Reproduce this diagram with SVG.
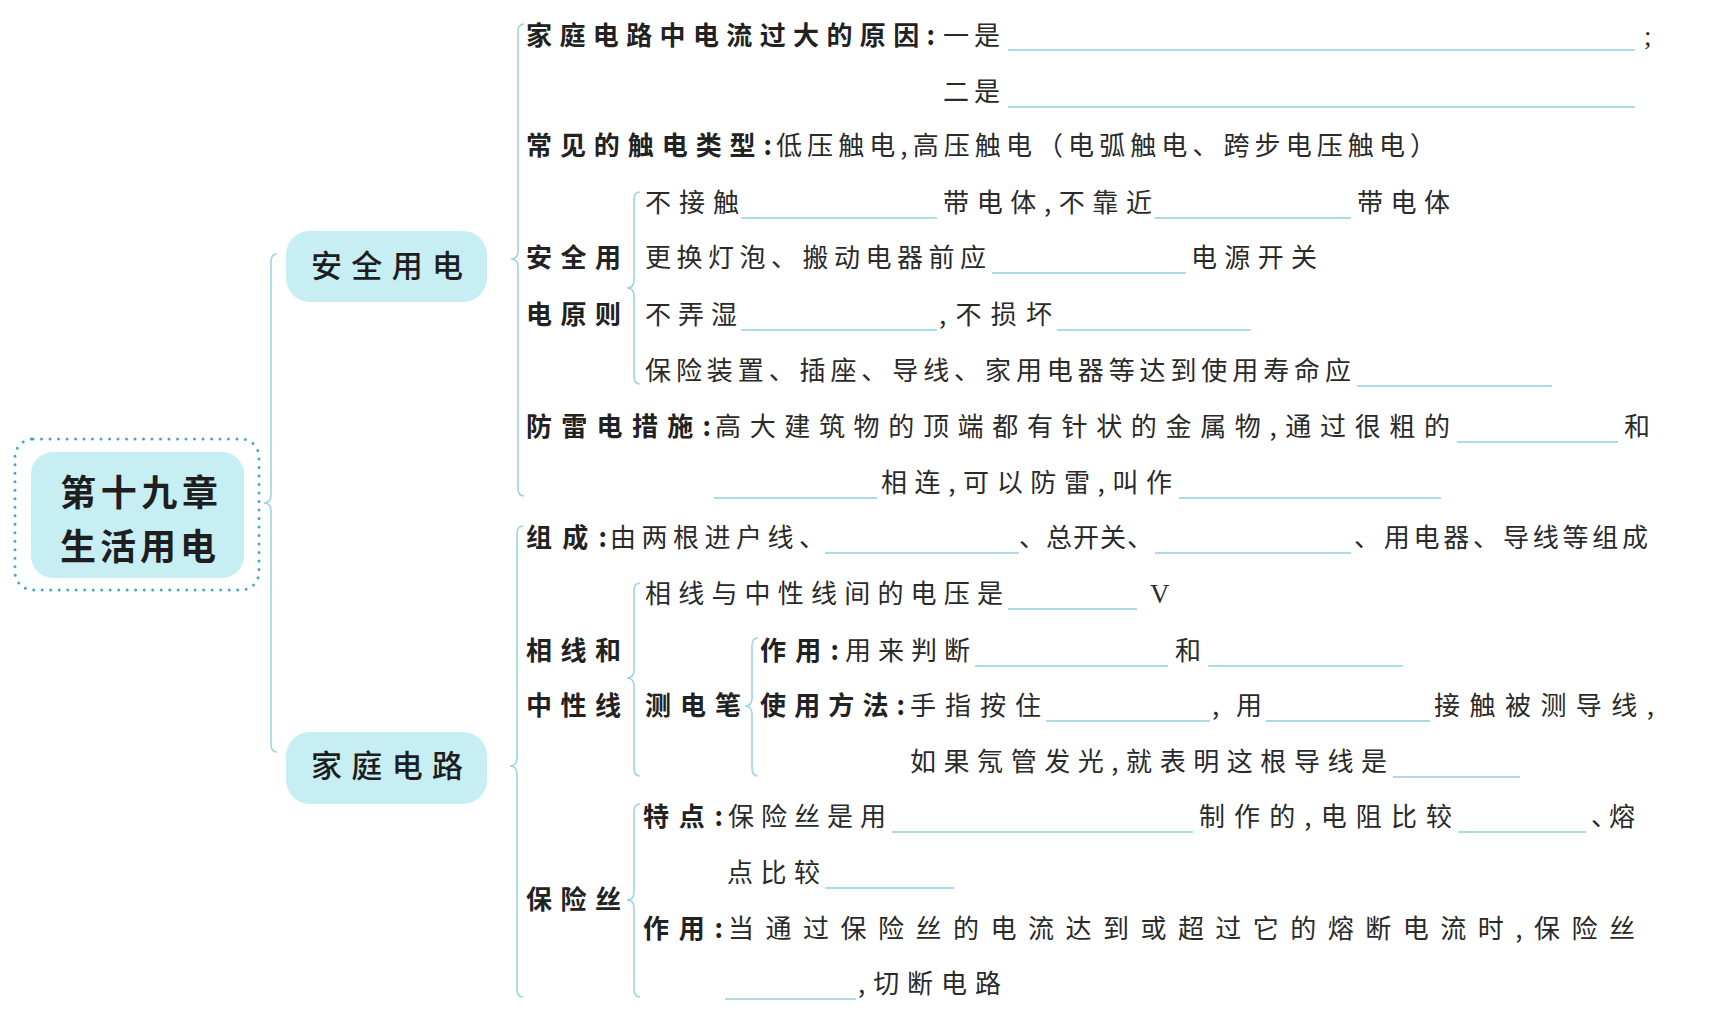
<svg xmlns="http://www.w3.org/2000/svg" width="1709" height="1036" viewBox="0 0 1709 1036">
<style>
.t{font-family:"Noto Sans CJK SC",sans-serif;font-size:26px;font-weight:400;fill:#2a2a2a}
.h{font-family:"Noto Sans CJK SC",sans-serif;font-size:26px;font-weight:700;fill:#222}
.s{font-family:"Liberation Serif",serif;font-size:27px;fill:#2a2a2a}
.b{stroke:#8fd0de;stroke-width:1.6}
.br{fill:none;stroke:#9dd6e2;stroke-width:1.6}
.nf{fill:#c6eef3}
.n1{font-family:"Noto Sans CJK SC",sans-serif;font-size:36px;font-weight:700;fill:#1e1e1e}
.n2{font-family:"Noto Sans CJK SC",sans-serif;font-size:31px;font-weight:500;fill:#1e1e1e}
</style>
<rect width="1709" height="1036" fill="#ffffff"/>
<g id="connectors">
<path class="br" d="M277,254 Q271,254 271,262 V495 Q271,503 264,503 Q271,503 271,511 V744 Q271,752 277,752"/>
<path class="br" d="M524,24 Q518,24 518,32 V251 Q518,259 511,259 Q518,259 518,267 V488 Q518,496 524,496"/>
<path class="br" d="M523,526 Q517,526 517,534 V758 Q517,766 510,766 Q517,766 517,774 V989 Q517,997 523,997"/>
<path class="br" d="M640,192 Q634,192 634,200 V280 Q634,288 627,288 Q634,288 634,296 V376 Q634,384 640,384"/>
<path class="br" d="M640,583 Q634,583 634,591 V670 Q634,678 627,678 Q634,678 634,686 V768 Q634,776 640,776"/>
<path class="br" d="M758,638 Q752,638 752,646 V698 Q752,706 745,706 Q752,706 752,714 V768 Q752,776 758,776"/>
<path class="br" d="M640,804 Q634,804 634,812 V892 Q634,900 627,900 Q634,900 634,908 V989 Q634,997 640,997"/>
</g>
<g id="node-main">
<rect x="15" y="439" width="244" height="151" rx="18" fill="none" stroke="#4aa6c6" stroke-width="3" stroke-linecap="round" stroke-dasharray="0 8.5"/>
<rect class="nf" x="31" y="452" width="213" height="126" rx="22"/>
<text class="n1" x="60" y="506" textLength="158" lengthAdjust="spacing">第十九章</text>
<text class="n1" x="60" y="560" textLength="156" lengthAdjust="spacing">生活用电</text>
</g>
<g id="node-safety">
<rect class="nf" x="286" y="231" width="201" height="71" rx="24"/>
<text class="n2" x="311" y="277" textLength="152" lengthAdjust="spacing">安全用电</text>
</g>
<g id="node-household">
<rect class="nf" x="286" y="732" width="201" height="72" rx="24"/>
<text class="n2" x="311" y="777" textLength="152" lengthAdjust="spacing">家庭电路</text>
</g>
<g id="node-overcurrent">
<text class="h" x="526" y="45" textLength="409" lengthAdjust="spacing">家庭电路中电流过大的原因:</text>
<text class="t" x="943" y="45" textLength="57" lengthAdjust="spacing">一是</text>
<line class="b" x1="1008" y1="50" x2="1635" y2="50"/>
<text class="s" x="1644" y="45">;</text>
<text class="t" x="943" y="101" textLength="57" lengthAdjust="spacing">二是</text>
<line class="b" x1="1008" y1="107" x2="1635" y2="107"/>
</g>
<g id="node-shock-types">
<text class="h" x="526" y="155" textLength="246" lengthAdjust="spacing">常见的触电类型:</text>
<text class="t" x="776" y="155" textLength="660" lengthAdjust="spacing">低压触电,高压触电（电弧触电、跨步电压触电）</text>
</g>
<g id="node-principles">
<text class="h" x="526" y="267" textLength="95" lengthAdjust="spacing">安全用</text>
<text class="h" x="526" y="324" textLength="95" lengthAdjust="spacing">电原则</text>
<text class="t" x="645" y="212" textLength="94" lengthAdjust="spacing">不接触</text>
<line class="b" x1="741" y1="218" x2="937" y2="218"/>
<text class="t" x="943" y="212" textLength="209" lengthAdjust="spacing">带电体,不靠近</text>
<line class="b" x1="1155" y1="218" x2="1351" y2="218"/>
<text class="t" x="1357" y="212" textLength="93" lengthAdjust="spacing">带电体</text>
<text class="t" x="645" y="267" textLength="341" lengthAdjust="spacing">更换灯泡、搬动电器前应</text>
<line class="b" x1="992" y1="273" x2="1186" y2="273"/>
<text class="t" x="1191" y="267" textLength="126" lengthAdjust="spacing">电源开关</text>
<text class="t" x="645" y="324" textLength="92" lengthAdjust="spacing">不弄湿</text>
<line class="b" x1="741" y1="330" x2="937" y2="330"/>
<text class="t" x="939" y="324" textLength="113" lengthAdjust="spacing">,不损坏</text>
<line class="b" x1="1057" y1="330" x2="1251" y2="330"/>
<text class="t" x="645" y="380" textLength="706" lengthAdjust="spacing">保险装置、插座、导线、家用电器等达到使用寿命应</text>
<line class="b" x1="1357" y1="386" x2="1552" y2="386"/>
</g>
<g id="node-lightning">
<text class="h" x="526" y="436" textLength="185" lengthAdjust="spacing">防雷电措施:</text>
<text class="t" x="715" y="436" textLength="735" lengthAdjust="spacing">高大建筑物的顶端都有针状的金属物,通过很粗的</text>
<line class="b" x1="1457" y1="442" x2="1618" y2="442"/>
<text class="t" x="1624" y="436">和</text>
<line class="b" x1="714" y1="498" x2="877" y2="498"/>
<text class="t" x="881" y="492" textLength="291" lengthAdjust="spacing">相连,可以防雷,叫作</text>
<line class="b" x1="1179" y1="498" x2="1441" y2="498"/>
</g>
<g id="node-composition">
<text class="h" x="526" y="547" textLength="81" lengthAdjust="spacing">组成:</text>
<text class="t" x="610" y="547" textLength="215" lengthAdjust="spacing">由两根进户线、</text>
<line class="b" x1="825" y1="553" x2="1019" y2="553"/>
<text class="t" x="1019" y="547" textLength="134" lengthAdjust="spacing">、总开关、</text>
<line class="b" x1="1155" y1="553" x2="1351" y2="553"/>
<text class="t" x="1354" y="547" textLength="294" lengthAdjust="spacing">、用电器、导线等组成</text>
</g>
<g id="node-wires">
<text class="h" x="526" y="660" textLength="95" lengthAdjust="spacing">相线和</text>
<text class="h" x="526" y="715" textLength="95" lengthAdjust="spacing">中性线</text>
<text class="t" x="645" y="603" textLength="358" lengthAdjust="spacing">相线与中性线间的电压是</text>
<line class="b" x1="1008" y1="609" x2="1137" y2="609"/>
<text class="s" x="1150" y="603">V</text>
</g>
<g id="node-tester">
<text class="h" x="645" y="715" textLength="96" lengthAdjust="spacing">测电笔</text>
<text class="h" x="760" y="660" textLength="79" lengthAdjust="spacing">作用:</text>
<text class="t" x="845" y="660" textLength="125" lengthAdjust="spacing">用来判断</text>
<line class="b" x1="975" y1="666" x2="1168" y2="666"/>
<text class="t" x="1175" y="660">和</text>
<line class="b" x1="1208" y1="666" x2="1403" y2="666"/>
<text class="h" x="760" y="715" textLength="145" lengthAdjust="spacing">使用方法:</text>
<text class="t" x="910" y="715" textLength="131" lengthAdjust="spacing">手指按住</text>
<line class="b" x1="1046" y1="721" x2="1210" y2="721"/>
<text class="t" x="1212" y="715" textLength="50" lengthAdjust="spacing">,用</text>
<line class="b" x1="1266" y1="721" x2="1430" y2="721"/>
<text class="t" x="1434" y="715" textLength="220" lengthAdjust="spacing">接触被测导线,</text>
<text class="t" x="910" y="771" textLength="477" lengthAdjust="spacing">如果氖管发光,就表明这根导线是</text>
<line class="b" x1="1393" y1="777" x2="1520" y2="777"/>
</g>
<g id="node-fuse">
<text class="h" x="526" y="909" textLength="95" lengthAdjust="spacing">保险丝</text>
<text class="h" x="643" y="826" textLength="80" lengthAdjust="spacing">特点:</text>
<text class="t" x="728" y="826" textLength="158" lengthAdjust="spacing">保险丝是用</text>
<line class="b" x1="892" y1="832" x2="1193" y2="832"/>
<text class="t" x="1199" y="826" textLength="253" lengthAdjust="spacing">制作的,电阻比较</text>
<line class="b" x1="1458" y1="832" x2="1586" y2="832"/>
<text class="t" x="1591" y="826" textLength="44" lengthAdjust="spacing">、熔</text>
<text class="t" x="727" y="882" textLength="93" lengthAdjust="spacing">点比较</text>
<line class="b" x1="825" y1="888" x2="954" y2="888"/>
<text class="h" x="643" y="938" textLength="80" lengthAdjust="spacing">作用:</text>
<text class="t" x="728" y="938" textLength="907" lengthAdjust="spacing">当通过保险丝的电流达到或超过它的熔断电流时,保险丝</text>
<line class="b" x1="725" y1="999" x2="856" y2="999"/>
<text class="t" x="858" y="993" textLength="143" lengthAdjust="spacing">,切断电路</text>
</g>
</svg>
